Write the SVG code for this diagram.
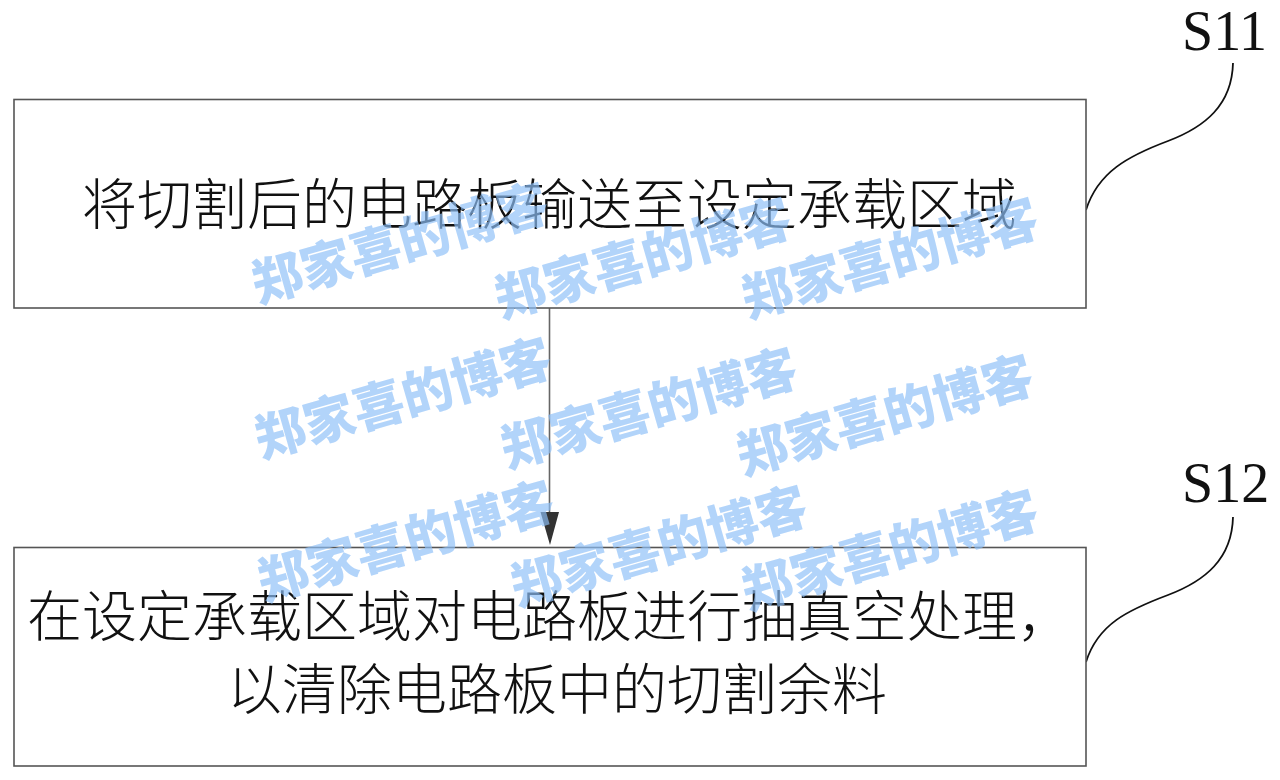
<svg xmlns="http://www.w3.org/2000/svg" width="1280" height="780" viewBox="0 0 1280 780">
  <style>
    .box { fill: #ffffff; stroke: #555555; stroke-width: 1.6; }
    .txt { font-family: "Noto Sans CJK SC", "Noto Sans CJK JP", sans-serif; font-size: 55px; font-weight: 300; fill: #111111; }
    .lbl { font-family: "Liberation Serif", "Times New Roman", serif; font-size: 56px; fill: #111111; }
    .lead { fill: none; stroke: #111111; stroke-width: 1.8; }
    .wm { font-family: "Noto Sans CJK SC", sans-serif; font-size: 51px; font-weight: 900; fill: #8dbff8; fill-opacity: 0.68; text-anchor: middle; dominant-baseline: central; }
  </style>
  <rect width="1280" height="780" fill="#ffffff"/>

  <g id="connectors">
    <line x1="549.5" y1="308" x2="549.5" y2="514" stroke="#666666" stroke-width="1.6"/>
    <polygon points="540.5,512 559,512 550,545" fill="#333333"/>
    <path class="lead" d="M1233,63 C1232,105 1205,127 1168,141 C1128,156 1098,172 1086,210"/>
    <path class="lead" d="M1233,517 C1232,559 1205,581 1168,595 C1128,610 1098,624 1086,662"/>
  </g>

  <g id="S11">
    <rect class="box" x="14" y="99.5" width="1072" height="208.5"/>
    <text class="txt" x="82" y="224">将切割后的电路板输送至设定承载区域</text>
    <text class="lbl" x="1182" y="50">S11</text>
  </g>

  <g id="S12">
    <rect class="box" x="14" y="547.5" width="1072" height="218.5"/>
    <text class="txt" x="27" y="636">在设定承载区域对电路板进行抽真空处理，</text>
    <text class="txt" x="227" y="709">以清除电路板中的切割余料</text>
    <text class="lbl" x="1182" y="502">S12</text>
  </g>

  <g id="watermarks">
    <text class="wm" transform="translate(399,240) rotate(-16)">郑家喜的博客</text>
    <text class="wm" transform="translate(642,255) rotate(-16)">郑家喜的博客</text>
    <text class="wm" transform="translate(889,255) rotate(-16)">郑家喜的博客</text>
    <text class="wm" transform="translate(402,395) rotate(-16)">郑家喜的博客</text>
    <text class="wm" transform="translate(648,405) rotate(-16)">郑家喜的博客</text>
    <text class="wm" transform="translate(884,412) rotate(-16)">郑家喜的博客</text>
    <text class="wm" transform="translate(405,538) rotate(-16)">郑家喜的博客</text>
    <text class="wm" transform="translate(658,543) rotate(-16)">郑家喜的博客</text>
    <text class="wm" transform="translate(889,547) rotate(-16)">郑家喜的博客</text>
  </g>
</svg>
